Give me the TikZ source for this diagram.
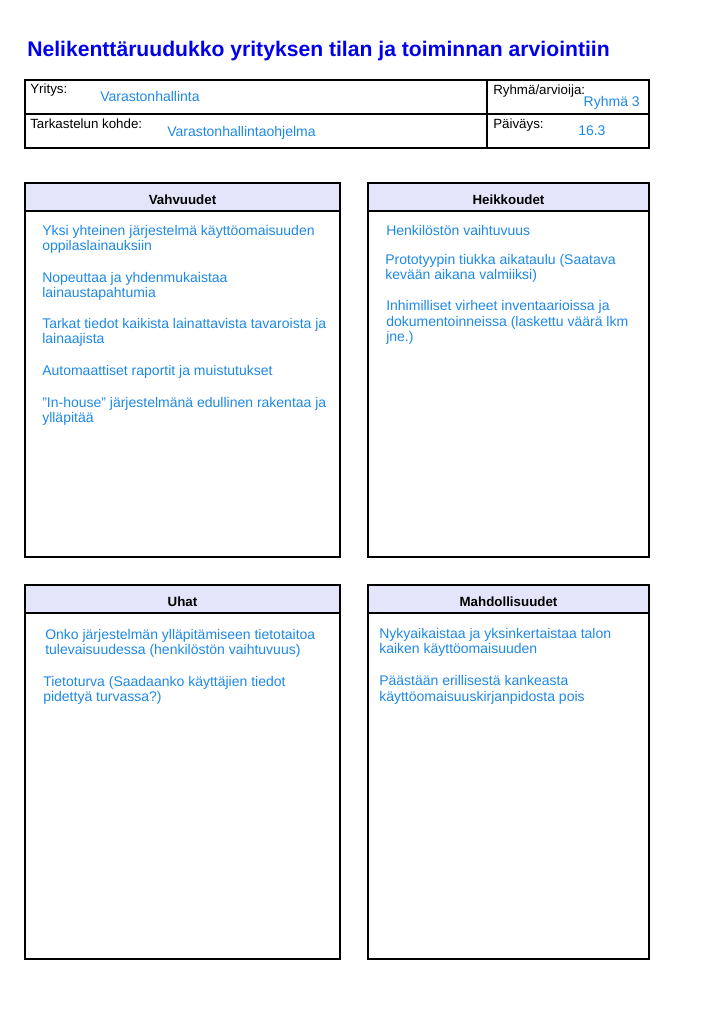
\documentclass[tikz,border=0pt]{standalone}
\usepackage{fontspec}
\setmainfont{Liberation Sans}
\usetikzlibrary{positioning}
\definecolor{titleblue}{RGB}{0,0,235}
\definecolor{itemblue}{RGB}{30,136,229}
\definecolor{headfill}{RGB}{228,228,250}
\newcommand{\bodyfont}{\fontsize{10.5}{11.5}\selectfont}
\newcommand{\labelfont}{\fontsize{10}{11.5}\selectfont}

\begin{document}
\begin{tikzpicture}[x=0.75pt,y=-0.75pt,node distance=12pt]
        \tikzstyle{cell} = [rectangle, draw, line width=0.8pt, anchor=north west, inner sep=0pt, outer sep=0pt, minimum height=25.5pt]
        \tikzstyle{tabtxt} = [anchor=base west, inner sep=0pt, font=\labelfont]
        \tikzstyle{tabval} = [anchor=base west, inner sep=0pt, text=itemblue, font=\bodyfont]
        \tikzstyle{head} = [rectangle, draw, line width=0.9pt, fill=headfill, anchor=north west, inner sep=0pt, outer sep=0pt, minimum height=21pt, text height=11pt, text depth=0pt, font=\bfseries\fontsize{10}{12}\selectfont]
        \tikzstyle{body} = [rectangle, draw, line width=0.9pt, inner sep=0pt, outer sep=0pt, minimum height=259.5pt]
        \tikzstyle{entry} = [anchor=north west, inner sep=0pt, align=left, text=itemblue, font=\bodyfont, execute at begin node=\strut, execute at end node=\strut]

        \useasboundingbox (0,0) rectangle (704,1013);

        % Title
        \node[anchor=base west, inner sep=0pt, text=titleblue, font=\bfseries\fontsize{15.85}{18}\selectfont] (title) at (27,56.5) {Nelikenttäruudukko yrityksen tilan ja toiminnan arviointiin};

        % Header table
        \node[cell, minimum width=346.5pt] (firm) at (25,80) {};
        \node[cell, minimum width=121.5pt] (group) at (487,80) {};
        \node[cell, minimum width=346.5pt] (target) at (25,114) {};
        \node[cell, minimum width=121.5pt] (date) at (487,114) {};

        \node[tabtxt] (firmlbl) at (30,94) {Yritys:};
        \node[tabval] (firmval) at (100,102) {Varastonhallinta};
        \node[tabtxt] (grouplbl) at (493,95) {Ryhmä/arvioija:};
        \node[tabval, anchor=base east] (groupval) at (640,107) {Ryhmä 3};
        \node[tabtxt] (targetlbl) at (30,129) {Tarkastelun kohde:};
        \node[tabval] (targetval) at (167,137) {Varastonhallintaohjelma};
        \node[tabtxt] (datelbl) at (493,129) {Päiväys:};
        \node[tabval] (dateval) at (578,136) {16.3};

        % Quadrant frames
        \node[head, minimum width=236.25pt] (vhead) at (25,183) {Vahvuudet};
        \node[body, minimum width=236.25pt, below=0pt of vhead] (vbox) {};
        \node[head, minimum width=210.75pt] (hhead) at (368,183) {Heikkoudet};
        \node[body, minimum width=210.75pt, below=0pt of hhead] (hbox) {};
        \node[head, minimum width=236.25pt] (uhead) at (25,585) {Uhat};
        \node[body, minimum width=236.25pt, below=0pt of uhead] (ubox) {};
        \node[head, minimum width=210.75pt] (mhead) at (368,585) {Mahdollisuudet};
        \node[body, minimum width=210.75pt, below=0pt of mhead] (mbox) {};

        % Strengths
        \node[entry] (v1) at (42,225) {Yksi yhteinen järjestelmä käyttöomaisuuden\\oppilaslainauksiin};
        \node[entry, below=of v1.south west, anchor=north west] (v2) {Nopeuttaa ja yhdenmukaistaa\\lainaustapahtumia};
        \node[entry, below=of v2.south west, anchor=north west] (v3) {Tarkat tiedot kaikista lainattavista tavaroista ja\\lainaajista};
        \node[entry, below=of v3.south west, anchor=north west] (v4) {Automaattiset raportit ja muistutukset};
        \node[entry, below=of v4.south west, anchor=north west] (v5) {”In-house” järjestelmänä edullinen rakentaa ja\\ylläpitää};

        % Weaknesses
        \node[entry] (h1) at (386,224) {Henkilöstön vaihtuvuus};
        \node[entry, below=10.5pt of h1.south west, anchor=north west, xshift=-0.75pt] (h2) {Prototyypin tiukka aikataulu (Saatava\\kevään aikana valmiiksi)};
        \node[entry, below=of h2.south west, anchor=north west, xshift=0.75pt] (h3) {Inhimilliset virheet inventaarioissa ja\\dokumentoinneissa (laskettu väärä lkm\\jne.)};

        % Threats
        \node[entry] (u1) at (45,629) {Onko järjestelmän ylläpitämiseen tietotaitoa\\tulevaisuudessa (henkilöstön vaihtuvuus)};
        \node[entry, below=of u1.south west, anchor=north west, xshift=-1.5pt] (u2) {Tietoturva (Saadaanko käyttäjien tiedot\\pidettyä turvassa?)};

        % Opportunities
        \node[entry] (m1) at (379,628) {Nykyaikaistaa ja yksinkertaistaa talon\\kaiken käyttöomaisuuden};
        \node[entry, below=12.5pt of m1.south west, anchor=north west] (m2) {Päästään erillisestä kankeasta\\käyttöomaisuuskirjanpidosta pois};
\end{tikzpicture}
\end{document}
